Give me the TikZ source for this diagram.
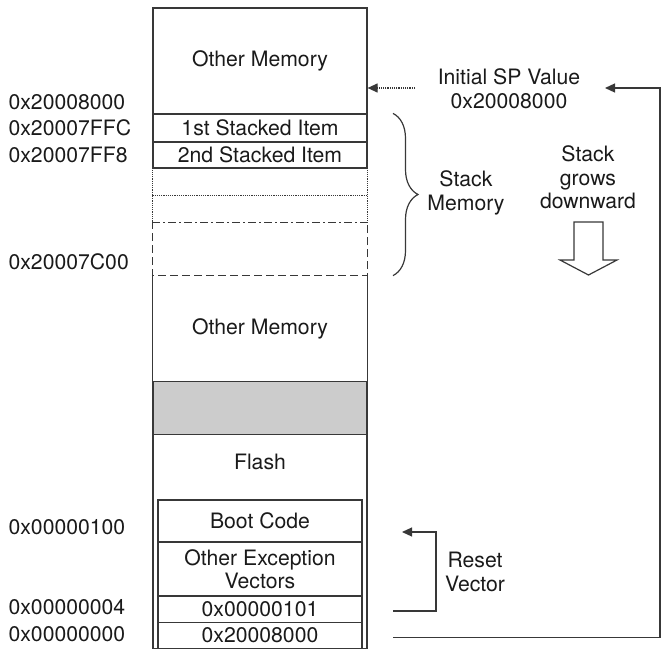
\documentclass[tikz,border=0pt]{standalone}
\usepackage{fontspec}
\setmainfont{TeX Gyre Heros}
\usetikzlibrary{positioning, arrows.meta, calc, decorations.pathreplacing}
\definecolor{memink}{HTML}{383838}
\definecolor{memtxt}{HTML}{1A1A1A}
\definecolor{memgray}{HTML}{CCCCCC}

\begin{document}
\begin{tikzpicture}[
  x=1pt, y=-1pt,
  line width=1.2pt, line join=miter,
  >={Triangle[length=10pt,width=9pt]},
  every node/.style={font=\fontsize{21.2}{23.5}\selectfont, text=memtxt},
  cell/.style = {draw=memink, line width=1.2pt, minimum width=214pt,
                 inner sep=0pt, anchor=center},
  subcell/.style = {draw=memink, line width=1.2pt, minimum width=204pt,
                    inner sep=0pt, anchor=center, align=center},
  slot/.style = {minimum width=214pt, inner sep=0pt, anchor=center},
  addr/.style = {anchor=west, inner sep=0pt},
  note/.style = {align=center, inner sep=0pt},
  lnk/.style = {draw=memink, line width=1.2pt}
]
\useasboundingbox (0,0) rectangle (666,653);

% memory column
\node[cell, minimum height=106pt] (om1) at (260,61)  {Other Memory};
\node[cell, minimum height=28pt]  (st1) at (260,128) {1st Stacked Item};
\node[cell, minimum height=26pt]  (st2) at (260,155) {2nd Stacked Item};

% empty stack slots
\node[slot, minimum height=27pt] (sl1) at (260,181.5) {};
\node[slot, minimum height=27pt] (sl2) at (260,208.5) {};
\node[slot, minimum height=53pt] (sl3) at (260,248.5) {};
\draw[memink, densely dotted] (sl1.north west) -- (sl2.south west)
  (sl1.north east) -- (sl2.south east) (sl1.south west) -- (sl1.south east);
\draw[memink, dash pattern=on 8pt off 3pt on 2pt off 3pt] (sl2.south west) -- (sl2.south east);
\draw[memink, dash pattern=on 8pt off 4pt] (sl3.north west) -- (sl3.south west)
  -- (sl3.south east) -- (sl3.north east);

% lower memory, top edge left dashed
\node[slot, minimum height=107pt] (om2) at (260,328.5) {Other Memory};
\draw[memink] (om2.north west) -- (om2.south west) (om2.north east) -- (om2.south east);
\node[cell, fill=memgray, minimum height=53pt] (rsv) at (260,408) {};
\node[cell, minimum height=214pt] (flash) at (260,541.5) {};
\node (flashlbl) at (260,462) {Flash};

% vector table
\node[subcell, minimum height=42pt]   (boot) at (260,521)    {Boot Code};
\node[subcell, minimum height=54pt]   (exc)  at (260,569)    {Other Exception\\Vectors};
\node[subcell, minimum height=26.5pt] (vec1) at (260,609.25) {0x00000101};
\node[subcell, minimum height=26pt]   (vec0) at (260,635.5)  {0x20008000};

% addresses
\node[addr] (adrtop) at (8,102) {0x20008000};
\node[addr] (adrffc) at (8,128) {0x20007FFC};
\node[addr] (adrff8) at (8,155) {0x20007FF8};
\node[addr] (adrc00) at (8,262) {0x20007C00};
\node[addr] (adr100) at (8,527) {0x00000100};
\node[addr] (adr004) at (8,607) {0x00000004};
\node[addr] (adr000) at (8,634) {0x00000000};

% stack notes
\draw[memink, decorate, decoration={brace, amplitude=25pt}]
  (st1.north east -| 393,0) -- (sl3.south east -| 393,0);
\node[note] (stkmem)  at (466,193)   {Stack\\Memory};
\node[note] (stkgrow) at (588,177.5) {Stack\\grows\\downward};
\draw[memink] (574,222) -- (603,222) -- (603,260) -- (617,260) -- (588.5,275)
  -- (560,260) -- (574,260) -- cycle;

% initial SP value
\node[note] (spval) at (509,88.5) {Initial SP Value\\0x20008000};
\coordinate (spdot) at (415,88);
\draw[lnk, ->, densely dotted] (spdot) -- (om1.east |- spdot);
\coordinate (spsrc) at (393,637.5);
\coordinate (spbend) at (660,637.5);
\coordinate (sptip) at (605,88);
\draw[lnk, ->] (spsrc) -- (spbend) |- (sptip);

% reset vector
\node[note] (rstvec) at (475,572) {Reset\\Vector};
\coordinate (rvsrc) at (393,611);
\coordinate (rvbend) at (436,611);
\coordinate (rvtip) at (402,532);
\draw[lnk, ->] (rvsrc) -- (rvbend) |- (rvtip);

\end{tikzpicture}
\end{document}
